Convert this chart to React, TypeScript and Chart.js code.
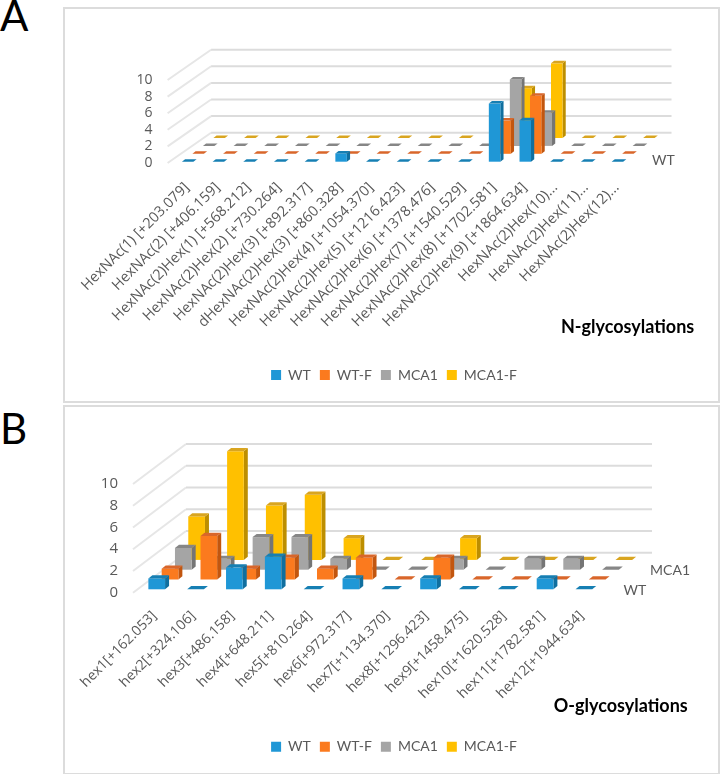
import React, { useEffect, useRef } from "react";
import { Chart, registerables } from "chart.js";

Chart.register(...registerables);

const seriesNames = ["WT", "WT-F", "MCA1", "MCA1-F"];
const frontColors = ["#1f97d6", "#fb7a1e", "#a5a5a5", "#ffc000"];
const sideColors = ["#106f9f", "#c2560f", "#757575", "#bd8e00"];
const topColors = ["#167fb3", "#d9662a", "#868686", "#d9a520"];

const nLabels = [
  "HexNAc(1) [+203.079]",
  "HexNAc(2) [+406.159]",
  "HexNAc(2)Hex(1) [+568.212]",
  "HexNAc(2)Hex(2) [+730.264]",
  "HexNAc(2)Hex(3) [+892.317]",
  "dHexNAc(2)Hex(3) [+860.328]",
  "HexNAc(2)Hex(4) [+1054.370]",
  "HexNAc(2)Hex(5) [+1216.423]",
  "HexNAc(2)Hex(6) [+1378.476]",
  "HexNAc(2)Hex(7) [+1540.529]",
  "HexNAc(2)Hex(8) [+1702.581]",
  "HexNAc(2)Hex(9) [+1864.634]",
  "HexNAc(2)Hex(10)...",
  "HexNAc(2)Hex(11)...",
  "HexNAc(2)Hex(12)...",
];
const nWT = [0, 0, 0, 0, 0, 1, 0, 0, 0, 0, 7, 5, 0, 0, 0];
const nWTF = [0, 0, 0, 0, 0, 0, 0, 0, 0, 0, 4, 7, 0, 0, 0];
const nMCA1 = [0, 0, 0, 0, 0, 0, 0, 0, 0, 0, 8, 4, 0, 0, 0];
const nMCA1F = [0, 0, 0, 0, 0, 0, 0, 0, 0, 0, 6, 9, 0, 0, 0];

const oLabels = [
  "hex1[+162.053]",
  "hex2[+324.106]",
  "hex3[+486.158]",
  "hex4[+648.211]",
  "hex5[+810.264]",
  "hex6[+972.317]",
  "hex7[+1134.370]",
  "hex8[+1296.423]",
  "hex9[+1458.475]",
  "hex10[+1620.528]",
  "hex11[+1782.581]",
  "hex12[+1944.634]",
];
const oWT = [1, 0, 2, 3, 0, 1, 0, 1, 0, 0, 1, 0];
const oWTF = [1, 4, 1, 2, 1, 2, 0, 2, 0, 0, 0, 0];
const oMCA1 = [2, 1, 3, 3, 1, 0, 0, 1, 0, 1, 1, 0];
const oMCA1F = [4, 10, 5, 6, 2, 0, 0, 2, 0, 0, 0, 0];

const FONT = "Lato, 'Open Sans', sans-serif";
const AXIS_FONT = "'Open Sans', Lato, sans-serif";
const GRAY = "#595959";
const CANVAS_LEFT = 68;
const CANVAS_W = 652;
const LEGEND_H = 33;

const panelA = {
  title: "N-glycosylations",
  labels: nLabels,
  series: [nWT, nWTF, nMCA1, nMCA1F],
  top: 0,
  height: 403,
  areaLeft: 167.6,
  areaRight: 628,
  areaTop: 80,
  areaBottom: 163,
  padBottom: 11,
  wallDx: 43.5,
  wallDy: 30.3,
  rowX0: 4.7,
  rowDx: 10.5,
  rowY0: 1.3,
  rowDy: 7.9,
  depthX: 3.2,
  depthY: 2.5,
  catPct: 0.375,
  yFont: 14,
  tickFont: 14.5,
  depthFont: 14,
  tickPad: 8,
  tickShift: 4,
  depthNames: [0],
  depthLeft: 24,
  titleX: 627.6,
  titleY: 327,
};

const panelB = {
  title: "O-glycosylations",
  labels: oLabels,
  series: [oWT, oWTF, oMCA1, oMCA1F],
  top: 403,
  height: 371,
  areaLeft: 133,
  areaRight: 599,
  areaTop: 81,
  areaBottom: 189.7,
  padBottom: 10.3,
  wallDx: 53,
  wallDy: 40,
  rowX0: 4.3,
  rowDx: 13.3,
  rowY0: 3.4,
  rowDy: 9.8,
  depthX: 4,
  depthY: 3.2,
  catPct: 0.43,
  yFont: 15,
  tickFont: 14,
  depthFont: 14,
  tickPad: 7,
  tickShift: 2,
  depthNames: [0, 2],
  depthLeft: 24.5,
  titleX: 620.7,
  titleY: 302.7,
};

function poly(ctx: CanvasRenderingContext2D, pts: number[][], fill: string) {
  ctx.fillStyle = fill;
  ctx.beginPath();
  pts.forEach((p, i) => (i ? ctx.lineTo(p[0], p[1]) : ctx.moveTo(p[0], p[1])));
  ctx.closePath();
  ctx.fill();
}

function makeChart(canvas: HTMLCanvasElement, p: typeof panelA) {
  const threeD = {
    id: "threeD",
    beforeDatasetsDraw(chart: any) {
      const { ctx, scales } = chart;
      const x = scales.x;
      const y = scales.y;
      ctx.save();
      ctx.lineWidth = 2;
      y.ticks.forEach((t: any) => {
        const py = y.getPixelForValue(t.value);
        ctx.strokeStyle = "#e6e6e6";
        ctx.beginPath();
        ctx.moveTo(x.left, py);
        ctx.lineTo(x.left + p.wallDx, py - p.wallDy);
        ctx.stroke();
        ctx.strokeStyle = "#dcdcdc";
        ctx.beginPath();
        ctx.moveTo(x.left + p.wallDx, py - p.wallDy);
        ctx.lineTo(x.right + p.wallDx, py - p.wallDy);
        ctx.stroke();
      });
      ctx.fillStyle = GRAY;
      ctx.font = `${p.depthFont}px ${FONT}`;
      ctx.textAlign = "left";
      ctx.textBaseline = "middle";
      p.depthNames.forEach((row: number) => {
        ctx.fillText(
          seriesNames[row],
          x.right + p.depthLeft + row * p.rowDx,
          y.bottom - 2.3 - row * p.rowDy
        );
      });
      ctx.restore();
    },
    beforeDatasetDraw(chart: any, args: any) {
      const { ctx } = chart;
      const i = args.index;
      const ox = p.rowX0 + i * p.rowDx;
      const oy = -p.rowY0 - i * p.rowDy;
      const dx = p.depthX;
      const dy = p.depthY;
      ctx.save();
      args.meta.data.forEach((el: any) => {
        const b = el.getProps(["x", "y", "base", "width"], true);
        const l = b.x - b.width / 2 + ox;
        const r = b.x + b.width / 2 + ox;
        const t = b.y + oy;
        const f = b.base + oy;
        if (f - t > 0.5) {
          poly(ctx, [[r, t], [r + dx, t - dy], [r + dx, f - dy], [r, f]], sideColors[i]);
          poly(ctx, [[l, t], [r, t], [r, f], [l, f]], frontColors[i]);
        }
        poly(ctx, [[l, t], [l + dx, t - dy], [r + dx, t - dy], [r, t]], topColors[i]);
      });
      ctx.restore();
      return false;
    },
    afterDraw(chart: any) {
      const { ctx } = chart;
      ctx.save();
      ctx.fillStyle = "#000000";
      ctx.font = `bold 18px ${FONT}`;
      ctx.textAlign = "center";
      ctx.textBaseline = "middle";
      ctx.fillText(p.title, p.titleX - CANVAS_LEFT, p.titleY);
      ctx.restore();
    },
  };

  return new Chart(canvas, {
    type: "bar",
    data: {
      labels: p.labels,
      datasets: p.series.map((values, i) => ({
        label: seriesNames[i],
        data: values,
        backgroundColor: frontColors[i],
        grouped: false,
        categoryPercentage: p.catPct,
        barPercentage: 1,
      })),
    },
    plugins: [threeD],
    options: {
      responsive: false,
      animation: false,
      layout: { padding: { top: p.areaTop, bottom: p.padBottom, left: 0, right: 0 } },
      plugins: {
        tooltip: { enabled: false },
        title: { display: false },
        legend: {
          position: "bottom",
          labels: {
            boxWidth: 10,
            boxHeight: 10,
            padding: 9,
            color: GRAY,
            font: { family: FONT, size: 14 },
          },
        },
      },
      scales: {
        x: {
          type: "category",
          grid: { display: false },
          border: { display: false },
          ticks: {
            autoSkip: false,
            minRotation: 45,
            maxRotation: 45,
            padding: p.tickPad,
            labelOffset: p.tickShift,
            color: GRAY,
            font: { family: AXIS_FONT, size: p.tickFont },
          },
          afterFit(s: any) {
            s.height = p.height - p.padBottom - LEGEND_H - p.areaBottom;
            s.paddingLeft = 0;
            s.paddingRight = 0;
          },
        },
        y: {
          min: 0,
          max: 10,
          grid: { display: false, drawTicks: false },
          border: { display: false },
          ticks: {
            stepSize: 2,
            autoSkip: false,
            padding: 15,
            color: GRAY,
            font: { family: AXIS_FONT, size: p.yFont },
          },
          afterFit(s: any) {
            s.width = p.areaLeft - CANVAS_LEFT;
            s.paddingTop = 0;
            s.paddingBottom = 0;
          },
        },
        y2: {
          position: "right",
          display: true,
          grid: { display: false },
          border: { display: false },
          ticks: { display: false },
          afterFit(s: any) {
            s.width = CANVAS_LEFT + CANVAS_W - p.areaRight;
          },
        },
      },
    },
  } as any);
}

function Panel({ p }: { p: typeof panelA }) {
  const ref = useRef<HTMLCanvasElement>(null);
  useEffect(() => {
    const chart = makeChart(ref.current as HTMLCanvasElement, p);
    return () => chart.destroy();
  }, [p]);
  return (
    <canvas
      ref={ref}
      width={CANVAS_W}
      height={p.height}
      style={{
        position: "absolute",
        left: CANVAS_LEFT,
        top: p.top,
        width: CANVAS_W,
        height: p.height,
      }}
    />
  );
}

const frameStyle = {
  position: "absolute",
  left: 63,
  width: 653,
  border: "2px solid #dcdcdc",
  boxSizing: "content-box",
} as React.CSSProperties;

const letterStyle = {
  position: "absolute",
  left: 0,
  fontFamily: FONT,
  fontSize: 42,
  lineHeight: "42px",
  color: "#000",
} as React.CSSProperties;

export default function App() {
  return (
    <div
      style={{
        position: "absolute",
        left: 0,
        top: 0,
        width: 720,
        height: 774,
        overflow: "hidden",
        background: "#fff",
      }}
    >
      <div style={{ ...frameStyle, top: 7, height: 392 }} />
      <div style={{ ...frameStyle, top: 405, height: 366 }} />
      <div style={{ ...letterStyle, top: -6 }}>A</div>
      <div style={{ ...letterStyle, top: 407 }}>B</div>
      <Panel p={panelA} />
      <Panel p={panelB} />
    </div>
  );
}
